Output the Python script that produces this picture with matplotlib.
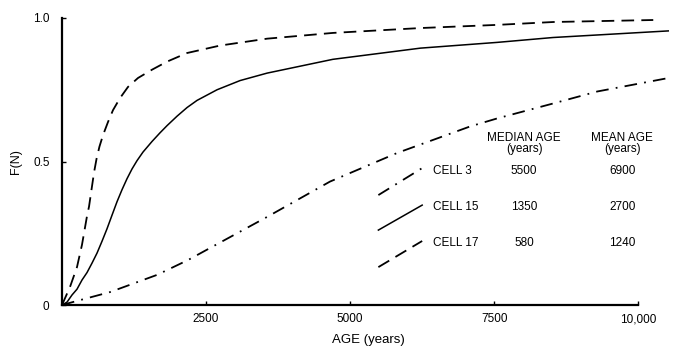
import matplotlib
matplotlib.use("Agg")
import matplotlib.pyplot as plt

# ---- data ----
age_cell17 = [0, 139, 260, 347, 434, 469, 556, 600, 650, 712, 799, 885, 1007,
              1146, 1319, 1563, 1823, 2170, 2743, 3560, 4700, 6220, 7550,
              8520, 10260]
f_cell17 = [0, 0.063, 0.132, 0.21, 0.31, 0.343, 0.462, 0.510, 0.552, 0.592,
            0.638, 0.679, 0.721, 0.76, 0.791, 0.82, 0.848, 0.878, 0.904,
            0.928, 0.948, 0.965, 0.976, 0.986, 0.993]

age_cell15 = [0, 87, 174, 260, 347, 434, 521, 608, 694, 780, 868, 955, 1042,
              1128, 1215, 1302, 1406, 1563, 1701, 1823, 1997, 2170, 2344,
              2691, 3090, 3560, 4700, 6220, 7550, 8520, 10520]
f_cell15 = [0, 0.01, 0.035, 0.055, 0.087, 0.113, 0.146, 0.181, 0.222, 0.265,
            0.313, 0.360, 0.402, 0.440, 0.474, 0.503, 0.533, 0.570, 0.600,
            0.625, 0.658, 0.688, 0.713, 0.750, 0.782, 0.808, 0.856, 0.895,
            0.915, 0.932, 0.955]

age_cell3 = [0, 312, 833, 1650, 2190, 2600, 3560, 4650, 5820, 7080, 7550,
             8520, 9290, 10500]
f_cell3 = [0, 0.017, 0.045, 0.105, 0.157, 0.202, 0.307, 0.430, 0.530, 0.622,
           0.650, 0.702, 0.744, 0.790]

cells = ["CELL 3", "CELL 15", "CELL 17"]
median_age = ["5500", "1350", "580"]
mean_age = ["6900", "2700", "1240"]

xticks = [2500, 5000, 7500, 10000]
xtick_labels = ["2500", "5000", "7500", "10,000"]
yticks = [0, 0.5, 1.0]
ytick_labels = ["0", "0.5", "1.0"]

plt.rcParams['font.family'] = ['Liberation Sans', 'DejaVu Sans']

fig = plt.figure(figsize=(6.74, 3.48), dpi=100)
ax = fig.add_axes([62/674, (348-305)/348, (674-62)/674, (305-18)/348])
ax.set_xlim(0, 10620)
ax.set_ylim(0, 1.0)

lw = 1.3
dash17 = (0, (7, 4))
solid15 = '-'
dashdot3 = (0, (7, 4, 1, 4))

ax.plot(age_cell17, f_cell17, color='black', lw=lw, linestyle=dash17,
        clip_on=False, solid_joinstyle='round', dash_joinstyle='round')
ax.plot(age_cell15, f_cell15, color='black', lw=lw*0.85, linestyle=solid15,
        clip_on=False, solid_joinstyle='round')
ax.plot(age_cell3, f_cell3, color='black', lw=lw, linestyle=dashdot3,
        clip_on=False, dash_joinstyle='round')

# legend-like samples
styles = [dashdot3, solid15, dash17]
lws = [lw, lw*0.85, lw]
sample_y = [(0.383, 0.477), (0.261, 0.348), (0.132, 0.223)]
row_y = [0.468, 0.342, 0.216]
fs = 8.5
for st, w, (y0, y1), ry, c, md, mn in zip(styles, lws, sample_y, row_y, cells, median_age, mean_age):
    ax.plot([5490, 6250], [y0, y1], color='black', lw=w, linestyle=st)
    ax.text(6440, ry, c, fontsize=fs, ha='left', va='center')
    ax.text(8020, ry, md, fontsize=fs, ha='center', va='center')
    ax.text(9720, ry, mn, fontsize=fs, ha='center', va='center')

ax.text(8020, 0.583, "MEDIAN AGE", fontsize=fs, ha='center', va='center')
ax.text(8020, 0.542, "(years)", fontsize=fs, ha='center', va='center')
ax.text(9720, 0.583, "MEAN AGE", fontsize=fs, ha='center', va='center')
ax.text(9720, 0.542, "(years)", fontsize=fs, ha='center', va='center')

for s in ['top', 'right']:
    ax.spines[s].set_visible(False)
ax.spines['left'].set_linewidth(1.6)
ax.spines['bottom'].set_linewidth(1.6)
ax.spines['bottom'].set_bounds(0, 10000)

ax.set_xticks(xticks)
ax.set_xticklabels(xtick_labels)
ax.set_yticks(yticks)
ax.set_yticklabels(ytick_labels)
ax.tick_params(axis='both', direction='in', length=3, width=1, labelsize=fs)
ax.tick_params(axis='x', pad=6)
ax.tick_params(axis='y', pad=9)

ax.set_ylabel("F(N)", fontsize=9, labelpad=8)
ax.set_xlabel("AGE (years)", fontsize=9.5, labelpad=6)

fig.savefig("out.png", dpi=100)
